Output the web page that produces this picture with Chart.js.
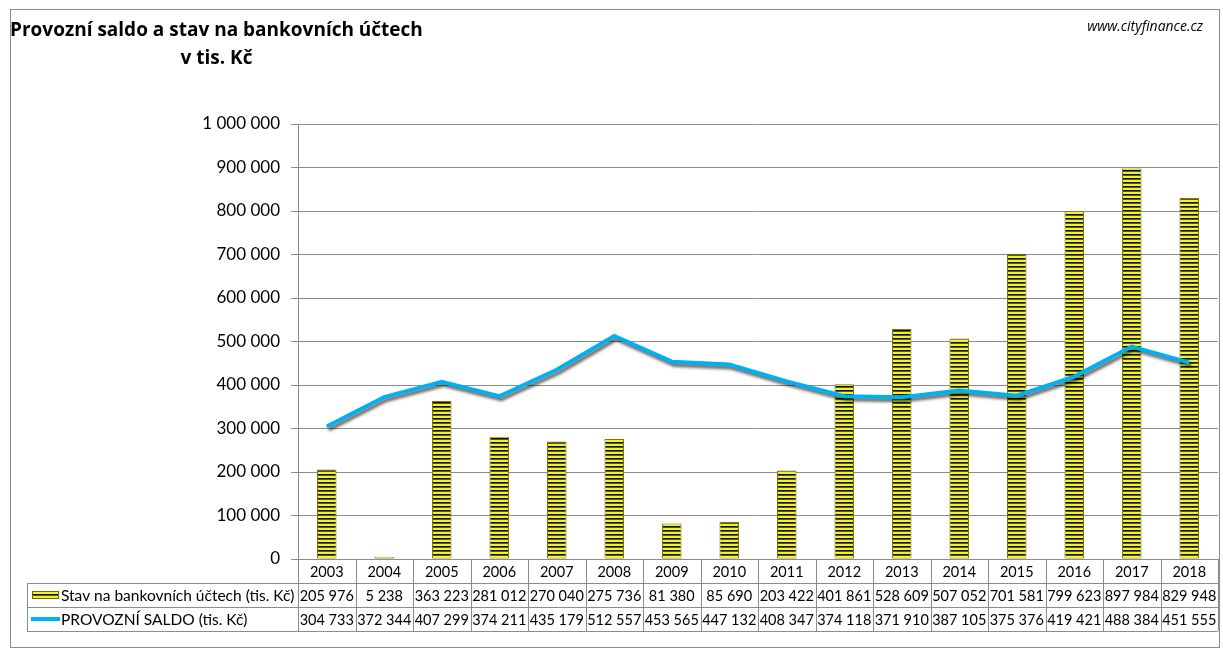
<!DOCTYPE html>
<html>
<head>
<meta charset="utf-8">
<script src="https://cdn.jsdelivr.net/npm/chart.js@4.4.1/dist/chart.umd.min.js"></script>
<style>
    body { margin: 0; background: #fff; }
    #wrap { position: relative; width: 1223px; height: 653px; }
    #frame { position: absolute; left: 10px; top: 9px; width: 1208px; height: 637px; border: 1px solid #8c8c8c; }
    #title { position: absolute; left: 10px; top: 15px; display: inline-block; text-align: center;
             font: bold 19px "Open Sans", sans-serif; line-height: 28px; color: #000; }
    #source { position: absolute; right: 20px; top: 16px; font: italic 14px "Open Sans", sans-serif; color: #000; }
</style>
</head>
<body>
<div id="wrap">
    <canvas id="chart"></canvas>
    <div id="frame"></div>
    <div id="title">Provozní saldo a stav na bankovních účtech<br>v tis. Kč</div>
    <div id="source">www.cityfinance.cz</div>
</div>
<script>
const years = ['2003', '2004', '2005', '2006', '2007', '2008', '2009', '2010', '2011', '2012', '2013', '2014', '2015', '2016', '2017', '2018'];
const stavUctu = [205976, 5238, 363223, 281012, 270040, 275736, 81380, 85690, 203422, 401861, 528609, 507052, 701581, 799623, 897984, 829948];
const provozniSaldo = [304733, 372344, 407299, 374211, 435179, 512557, 453565, 447132, 408347, 374118, 371910, 387105, 375376, 419421, 488384, 451555];
const stavLabel = 'Stav na bankovních účtech (tis. Kč)';
const saldoLabel = 'PROVOZNÍ SALDO (tis. Kč)';

const fmt = v => v.toString().replace(/\B(?=(\d{3})+(?!\d))/g, ' ');

// striped yellow / black fill of the bars
function stripePattern(ctx) {
    const c = document.createElement('canvas');
    c.width = 4; c.height = 4;
    const p = c.getContext('2d');
    p.fillStyle = '#f2f22a'; p.fillRect(0, 0, 4, 2);
    p.fillStyle = '#141400'; p.fillRect(0, 2, 4, 1);
    p.fillStyle = '#5a5a10'; p.fillRect(0, 3, 4, 1);
    return ctx.createPattern(c, 'repeat');
}

const ctx = document.getElementById('chart').getContext('2d');
const pattern = stripePattern(ctx);

// --- shadow under the line ---
const lineShadow = {
    id: 'lineShadow',
    beforeDatasetDraw(chart, args) {
        if (args.index !== 1) return;
        const c = chart.ctx;
        c.save();
        c.shadowColor = 'rgba(0,0,0,0.6)';
        c.shadowOffsetX = 2;
        c.shadowOffsetY = 3;
        c.shadowBlur = 3;
    },
    afterDatasetDraw(chart, args) {
        if (args.index !== 1) return;
        chart.ctx.restore();
    }
};

// --- data table under the plot ---
const dataTable = {
    id: 'dataTable',
    afterDraw(chart) {
        const c = chart.ctx;
        const x = chart.scales.x;
        const area = chart.chartArea;
        const rowH = 24;
        const top = area.bottom;
        const rows = [top, top + rowH, top + rowH * 2, top + rowH * 3];
        const tableLeft = 27;
        const half = (x.getPixelForValue(1) - x.getPixelForValue(0)) / 2;

        c.save();
        c.strokeStyle = '#8c8c8c';
        c.lineWidth = 1;
        c.beginPath();
        // horizontal lines
        c.moveTo(area.left, rows[0] + 0.5); c.lineTo(area.right, rows[0] + 0.5);
        for (let r = 1; r < 4; r++) {
            c.moveTo(tableLeft, rows[r] + 0.5); c.lineTo(area.right, rows[r] + 0.5);
        }
        // vertical lines
        c.moveTo(tableLeft + 0.5, rows[1]); c.lineTo(tableLeft + 0.5, rows[3]);
        for (let i = 0; i <= years.length; i++) {
            const px = Math.round(x.getPixelForValue(0) - half + i * half * 2) + 0.5;
            c.moveTo(px, rows[0]); c.lineTo(px, rows[3]);
        }
        c.stroke();

        c.fillStyle = '#000';
        c.font = '14.5px Lato, sans-serif';
        c.textBaseline = 'middle';
        c.textAlign = 'center';
        years.forEach((y, i) => {
            const cx = x.getPixelForValue(i);
            c.fillText(y, cx, rows[0] + rowH / 2 + 1);
            c.fillText(fmt(stavUctu[i]), cx, rows[1] + rowH / 2 + 1);
            c.fillText(fmt(provozniSaldo[i]), cx, rows[2] + rowH / 2 + 1);
        });

        // legend keys
        const m1 = rows[1] + rowH / 2;
        const m2 = rows[2] + rowH / 2;
        c.fillStyle = pattern;
        c.fillRect(32, m1 - 4, 27, 8);
        c.strokeStyle = '#6b6b00';
        c.strokeRect(32.5, m1 - 3.5, 26, 7);
        c.strokeStyle = '#00b0f0';
        c.lineWidth = 4;
        c.beginPath();
        c.moveTo(31, m2); c.lineTo(60, m2);
        c.stroke();

        c.fillStyle = '#000';
        c.textAlign = 'left';
        c.font = '15.5px Lato, sans-serif';
        c.fillText(stavLabel, 61, m1 + 1);
        c.fillText(saldoLabel, 61, m2 + 1);
        c.restore();
    }
};

new Chart(ctx, {
    data: {
        labels: years,
        datasets: [
            {
                type: 'bar',
                label: stavLabel,
                data: stavUctu,
                backgroundColor: pattern,
                borderColor: '#7a7a00',
                borderWidth: 1,
                categoryPercentage: 0.34,
                barPercentage: 1,
                order: 1
            },
            {
                type: 'line',
                label: saldoLabel,
                data: provozniSaldo,
                borderColor: '#00b0f0',
                borderWidth: 4,
                pointRadius: 0,
                tension: 0,
                order: 0
            }
        ]
    },
    options: {
        responsive: true,
        maintainAspectRatio: false,
        animation: false,
        layout: { padding: { left: 0, top: 124, right: 5, bottom: 94 } },
        scales: {
            x: { display: false },
            y: {
                min: 0,
                max: 1000000,
                afterFit: s => { s.width = 298; },
                border: { display: true, color: '#8c8c8c' },
                grid: { color: '#8c8c8c', tickLength: 7 },
                ticks: {
                    stepSize: 100000,
                    padding: 11,
                    color: '#000',
                    font: { family: 'Lato', size: 17 },
                    callback: v => fmt(v)
                }
            }
        },
        plugins: {
            legend: { display: false },
            tooltip: { enabled: false }
        }
    },
    plugins: [lineShadow, dataTable]
});
</script>
</body>
</html>
